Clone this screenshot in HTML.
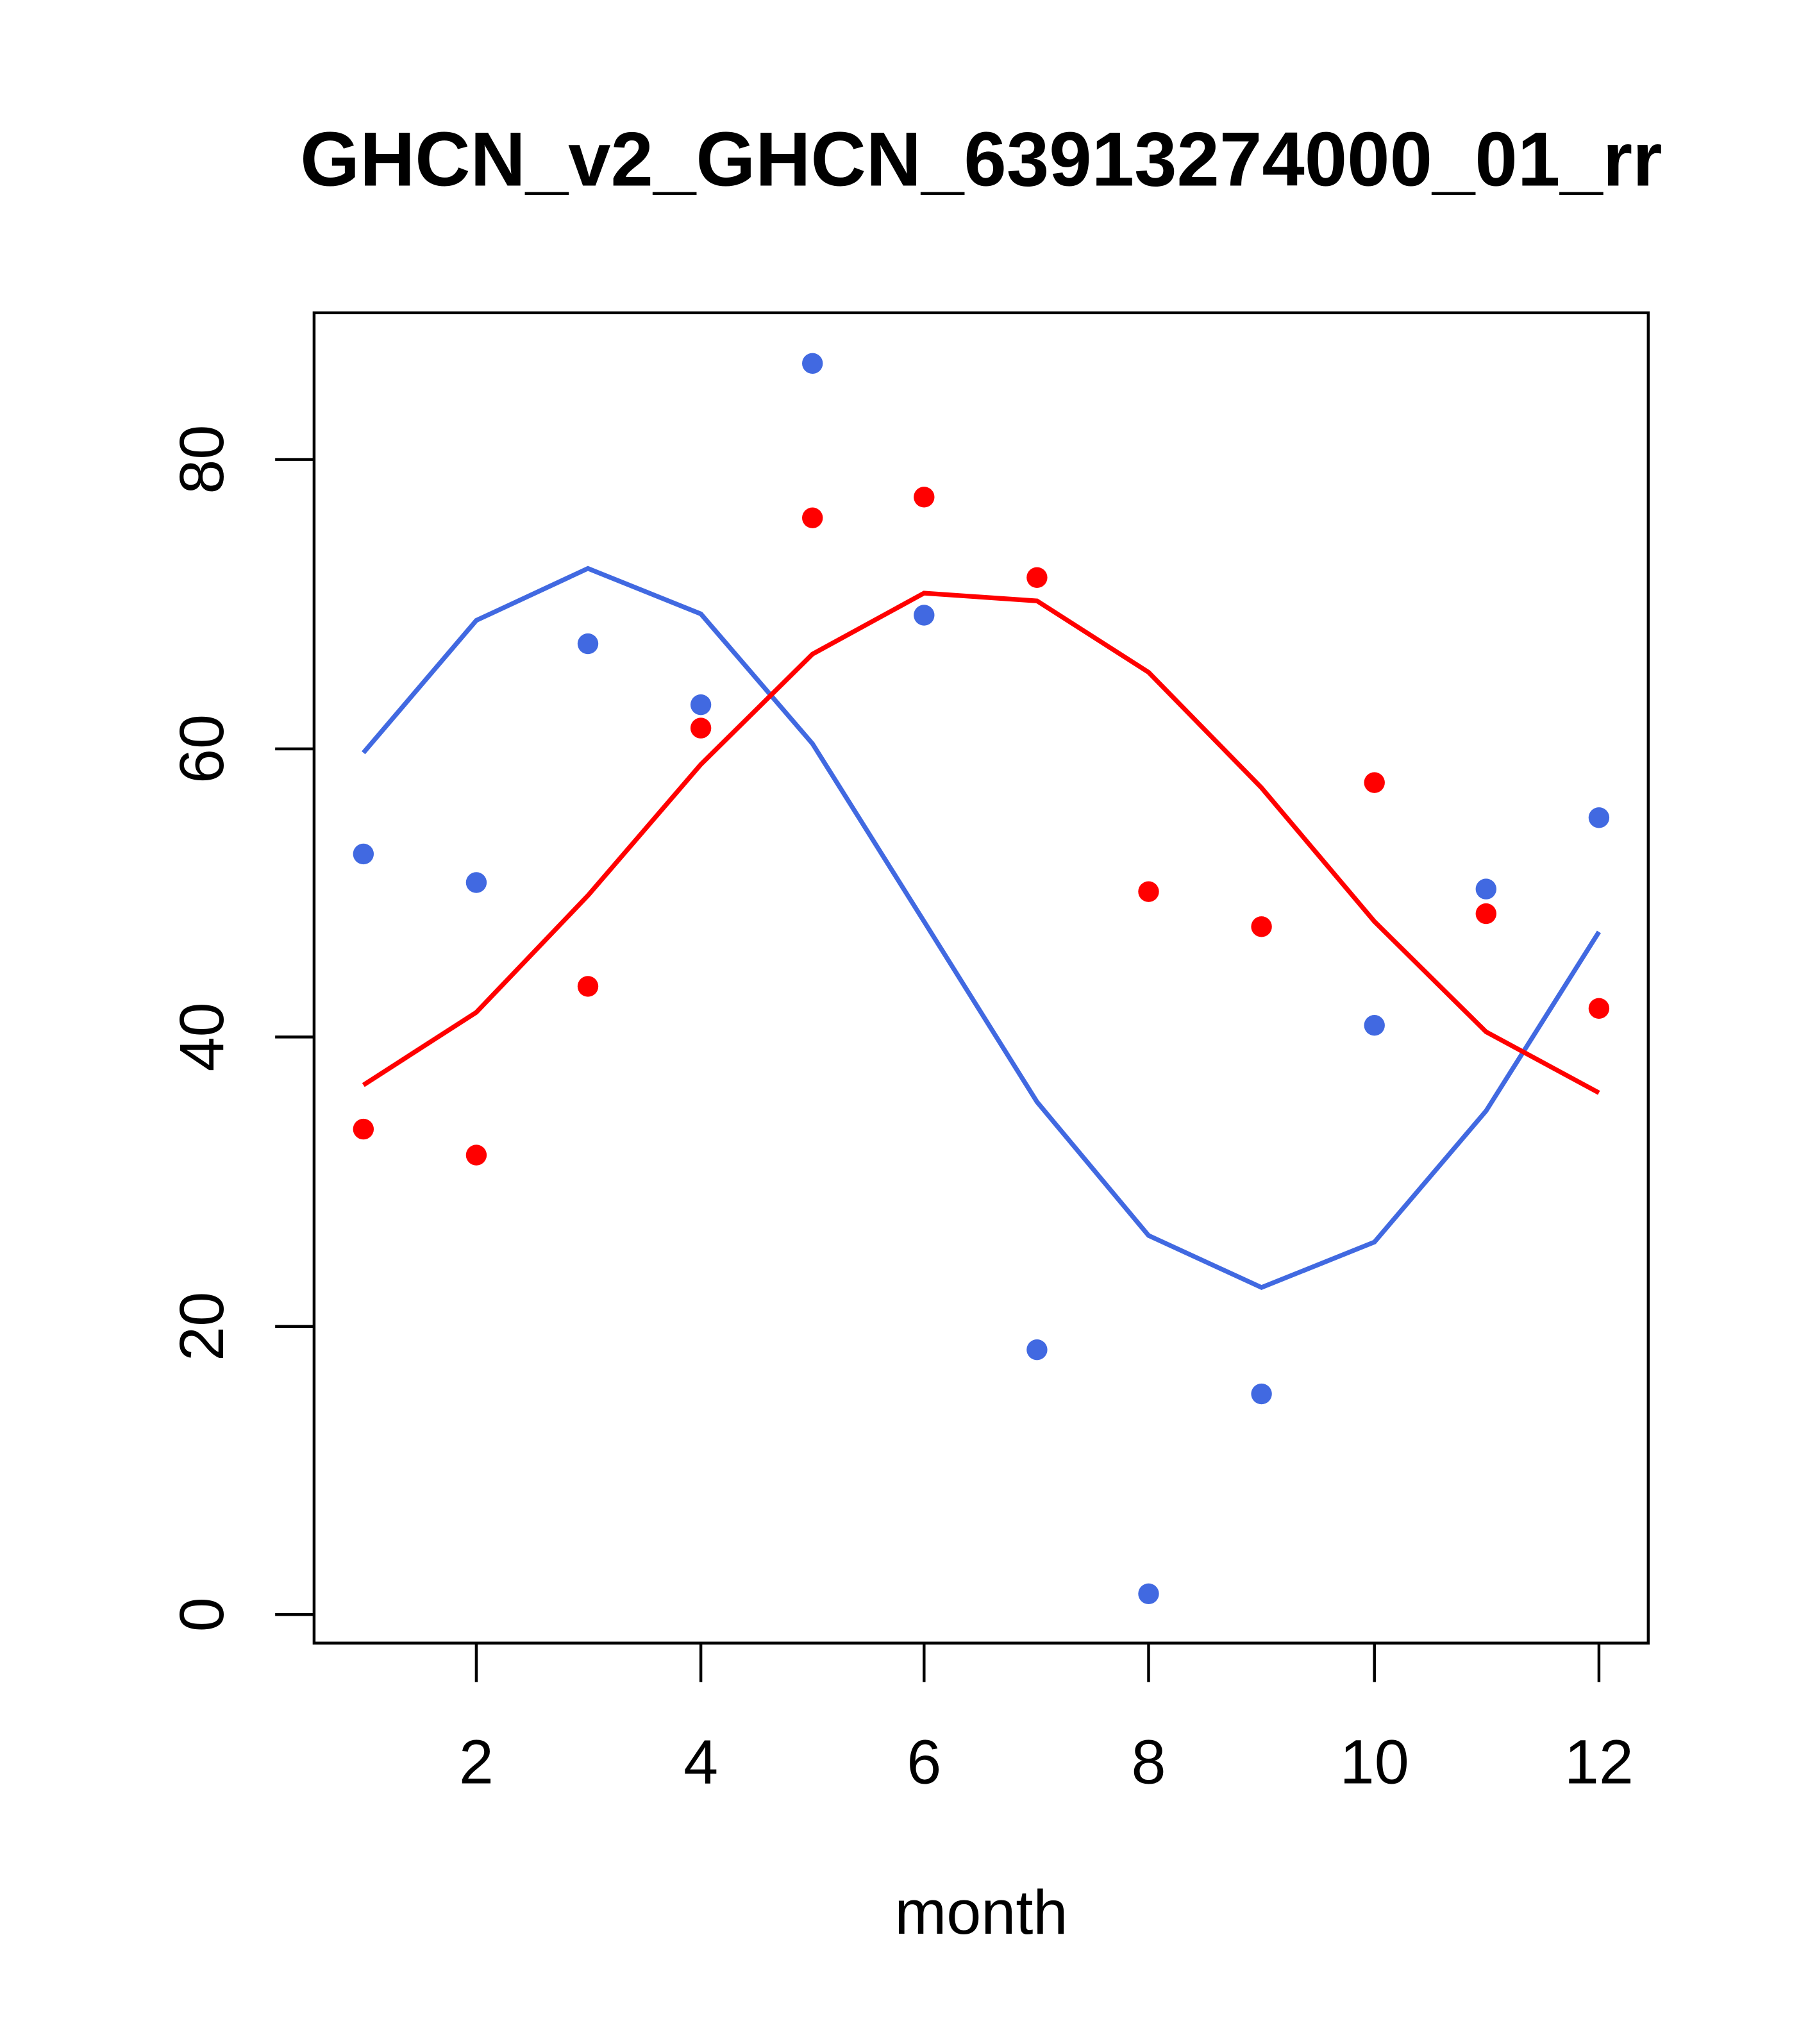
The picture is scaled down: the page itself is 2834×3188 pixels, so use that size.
<!DOCTYPE html>
<html><head><style>html,body{margin:0;padding:0;background:#fff}svg{display:block}</style></head>
<body>
<svg width="2834" height="3188" viewBox="0 0 1400 1574.9" xmlns="http://www.w3.org/2000/svg" font-family="Liberation Sans, sans-serif">
<rect width="1400" height="1575" fill="#fff"/>
<text x="756" y="143" font-size="59" font-weight="bold" text-anchor="middle">GHCN_v2_GHCN_63913274000_01_rr</text>
<rect x="242" y="241" width="1028" height="1025" fill="none" stroke="#000" stroke-width="2.2"/>
<g stroke="#000" stroke-width="2.2">
<line x1="212" y1="1244" x2="242" y2="1244"/><line x1="212" y1="1022" x2="242" y2="1022"/><line x1="212" y1="799" x2="242" y2="799"/><line x1="212" y1="577" x2="242" y2="577"/><line x1="212" y1="354" x2="242" y2="354"/>
<line x1="367" y1="1266" x2="367" y2="1296"/><line x1="540" y1="1266" x2="540" y2="1296"/><line x1="712" y1="1266" x2="712" y2="1296"/><line x1="885" y1="1266" x2="885" y2="1296"/><line x1="1059" y1="1266" x2="1059" y2="1296"/><line x1="1232" y1="1266" x2="1232" y2="1296"/>
</g>
<g font-size="48" text-anchor="middle">
<text transform="translate(172,1244) rotate(-90)">0</text>
<text transform="translate(172,1022) rotate(-90)">20</text>
<text transform="translate(172,799) rotate(-90)">40</text>
<text transform="translate(172,577) rotate(-90)">60</text>
<text transform="translate(172,354) rotate(-90)">80</text>
<text x="367" y="1374">2</text><text x="540" y="1374">4</text><text x="712" y="1374">6</text><text x="885" y="1374">8</text><text x="1059" y="1374">10</text><text x="1232" y="1374">12</text>
<text x="756" y="1490">month</text>
</g>
<polyline fill="none" stroke="#4169E1" stroke-width="3.6" points="280,580 367,478 453,438 540,473 626,573 712,710 799,849 885,952 972,992 1059,957 1145,856 1232,718"/>
<polyline fill="none" stroke="#FF0000" stroke-width="3.6" points="280,836 367,780 453,690 540,589 626,504 712,457 799,463 885,518 972,607 1059,710 1145,795 1232,842"/>
<g fill="#4169E1">
<circle cx="280" cy="658" r="8"/><circle cx="367" cy="680" r="8"/><circle cx="453" cy="496" r="8"/><circle cx="540" cy="543" r="8"/><circle cx="626" cy="280" r="8"/><circle cx="712" cy="474" r="8"/><circle cx="799" cy="1040" r="8"/><circle cx="885" cy="1228" r="8"/><circle cx="972" cy="1074" r="8"/><circle cx="1059" cy="790" r="8"/><circle cx="1145" cy="685" r="8"/><circle cx="1232" cy="630" r="8"/>
</g>
<g fill="#FF0000">
<circle cx="280" cy="870" r="8"/><circle cx="367" cy="890" r="8"/><circle cx="453" cy="760" r="8"/><circle cx="540" cy="561" r="8"/><circle cx="626" cy="399" r="8"/><circle cx="712" cy="383" r="8"/><circle cx="799" cy="445" r="8"/><circle cx="885" cy="687" r="8"/><circle cx="972" cy="714" r="8"/><circle cx="1059" cy="603" r="8"/><circle cx="1145" cy="704" r="8"/><circle cx="1232" cy="777" r="8"/>
</g>
</svg>
</body></html>
